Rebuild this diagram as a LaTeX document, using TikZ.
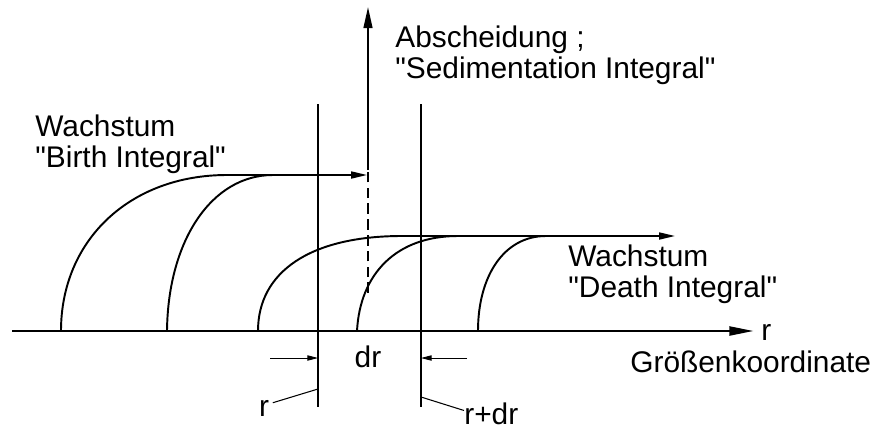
\documentclass[tikz,border=0pt]{standalone}
\usepackage{fontspec}
\setmainfont{Liberation Sans}
\usetikzlibrary{arrows.meta}
\newcommand{\qq}[1]{\textquotedbl#1\textquotedbl}

\begin{document}
\begin{tikzpicture}[x=0.02cm,y=-0.02cm,
  lbl/.style={font=\fontsize{17}{17.6}\selectfont,inner sep=0pt,align=left,anchor=base west},
  curve/.style={line width=1.1pt},
  guide/.style={line width=0.6pt},
  flow/.style={line width=0.9pt,-{Triangle[length=9pt,width=4pt]}},
  dim/.style={line width=0.5pt,-{Triangle[length=6pt,width=3pt]}}]
  \useasboundingbox (0,0) rectangle (877,430);
  % axis
  \coordinate (o) at (12,331);
  \coordinate (rend) at (754,331);
  \draw[line width=1.6pt,-{Triangle[length=14pt,width=5pt]}] (o) -- (rend);
  \node[lbl] (raxis) at (761,340) {r};
  \node[lbl] (koord) at (630,372) {Größenkoordinate};
  % guide lines r and r+dr
  \foreach \n/\x in {g1/318,g2/421} {
    \coordinate (\n top) at (\x,104);
    \coordinate (\n bot) at (\x,407);
    \draw[guide] (\n top) -- (\n bot);
  }
  % birth curves
  \coordinate (b1) at (227,175);
  \coordinate (b2) at (273,175);
  \coordinate (bend) at (367,175);
  \draw[curve] (61,331) .. controls (61,240) and (130,175) .. (b1);
  \draw[curve] (167,331) .. controls (168,240) and (212,175) .. (b2);
  \draw[flow] (b1) -- (bend);
  % death curves
  \coordinate (d1) at (402,236);
  \coordinate (d2) at (458,236);
  \coordinate (d3) at (546,236);
  \coordinate (dend) at (675,236);
  \draw[curve] (258,331) .. controls (258,272) and (310,236) .. (d1);
  \draw[curve] (357,331) .. controls (360,274) and (396,236) .. (d2);
  \draw[curve] (478,331) .. controls (478,276) and (504,236) .. (d3);
  \draw[flow] (d1) -- (dend);
  % sedimentation
  \coordinate (s0) at (368,293);
  \coordinate (s1) at (368,170);
  \coordinate (s2) at (368,7);
  \draw[line width=1.1pt,dash pattern=on 6pt off 3pt] (s0) -- (s1);
  \draw[line width=1.1pt,-{Triangle[length=12pt,width=5pt]}] (s1) -- (s2);
  % labels (base = last line)
  \node[lbl] (birth) at (35,167) {Wachstum\\\qq{Birth Integral}};
  \node[lbl] (sed) at (395,78) {Abscheidung ;\\\qq{Sedimentation Integral}};
  \node[lbl] (death) at (568,297) {Wachstum\\\qq{Death Integral}};
  % dr
  \node[lbl,anchor=center] (dr) at (368,357) {dr};
  \coordinate (dl) at (270,358);
  \coordinate (dr2) at (467,358);
  \draw[dim] (dl) -- (dl -| g1bot);
  \draw[dim] (dr2) -- (dr2 -| g2bot);
  \node[lbl,anchor=center] (rlab) at (264,408) {r};
  \node[lbl,anchor=west] (rdrlab) at (464,414) {r+dr};
  \coordinate (l1) at (318,389);
  \coordinate (l2) at (421,397);
  \draw[guide] ([xshift=2pt,yshift=3pt]rlab.east) -- (l1);
  \draw[guide] (l2) -- ([yshift=2pt]rdrlab.west);
\end{tikzpicture}
\end{document}
